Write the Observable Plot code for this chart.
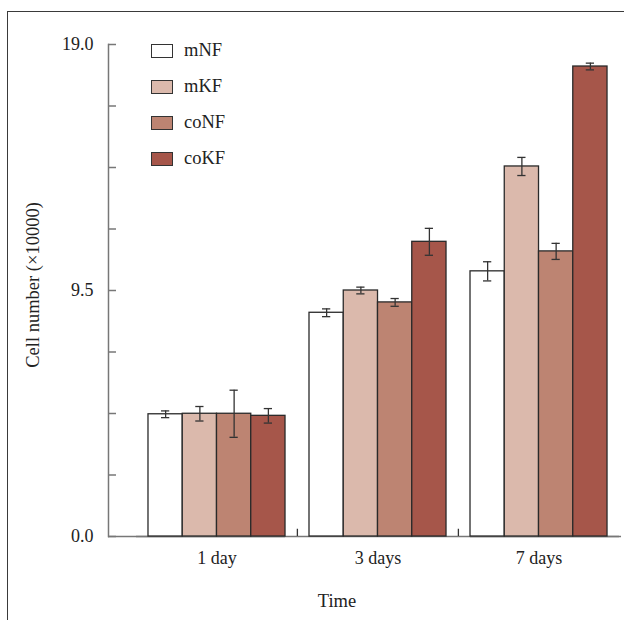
<!DOCTYPE html>
<html><head><meta charset="utf-8">
<script src="https://cdn.jsdelivr.net/npm/d3@7"></script>
<script src="https://cdn.jsdelivr.net/npm/@observablehq/plot@0.6"></script>
<style>
body{margin:0;background:#fff;}
#wrap{position:relative;width:624px;height:620px;overflow:hidden;font-family:"Liberation Serif",serif;color:#222;}
#border{position:absolute;left:7px;top:11px;width:640px;height:640px;border-left:1.5px solid #3a3a3a;border-top:1.5px solid #3a3a3a;}
#chart{position:absolute;left:0;top:0;}
#legend{position:absolute;left:151px;top:43px;}
.row{position:absolute;left:0;height:15px;display:flex;align-items:center;white-space:nowrap;}
.sw{width:20px;height:12px;border:1.3px solid #333;}
.lab{margin-left:11px;font-size:18.5px;}
#xtitle{position:absolute;left:0;width:674px;top:592px;text-align:center;font-size:18.5px;line-height:18px;}
#ytitle{position:absolute;left:33px;top:285px;font-size:18.5px;line-height:18px;white-space:nowrap;transform:translate(-50%,-50%) rotate(-90deg);}
</style></head><body>
<div id="wrap"><div id="border"></div><div id="chart"></div><div id="legend"></div><div id="ytitle">Cell number (×10000)</div><div id="xtitle">Time</div></div>
<script>
const times = ["1 day", "3 days", "7 days"];
const series = ["mNF", "mKF", "coNF", "coKF"];
const colors = ["#ffffff", "#dbb9ac", "#bd8472", "#a6564a"];
const mNF = [4.72, 8.64, 10.24];
const mKF = [4.74, 9.50, 14.29];
const coNF = [4.74, 9.04, 11.01];
const coKF = [4.66, 11.38, 18.15];
const errMNF = [0.13, 0.15, 0.37];
const errMKF = [0.28, 0.13, 0.35];
const errCoNF = [0.91, 0.15, 0.31];
const errCoKF = [0.28, 0.52, 0.13];
const yTicks = [0, 2.375, 4.75, 7.125, 9.5, 11.875, 14.25, 16.625, 19];
const yLabels = [0, 9.5, 19];
const dividers = ["1 day", "3 days"];

const vals = [mNF, mKF, coNF, coKF];
const errs = [errMNF, errMKF, errCoNF, errCoKF];
const data = [];
times.forEach((t, i) => series.forEach((s, j) => data.push({time: t, series: s, value: vals[j][i], err: errs[j][i]})));

const ink = "#333";
const axisGray = "#777";
const plot = Plot.plot({
  width: 624, height: 585,
  marginLeft: 108, marginRight: 4, marginTop: 44, marginBottom: 49,
  style: {fontFamily: '"Liberation Serif", serif', fontSize: "18px", color: "#222", background: "transparent"},
  fx: {domain: times, paddingInner: 0.149, paddingOuter: 0.1645, align: 0.755, round: false, label: null},
  x: {domain: series, padding: 0, round: false, axis: null},
  y: {domain: [0, 19], axis: null},
  color: {domain: series, range: colors},
  marks: [
    Plot.ruleY([0], {insetLeft: -12, insetRight: -12, stroke: axisGray, strokeWidth: 1.5}),
    Plot.ruleY([0], {facetAnchor: "left", insetLeft: -40, stroke: axisGray, strokeWidth: 1.5}),
    Plot.ruleY([0], {facetAnchor: "right", insetRight: -14, stroke: axisGray, strokeWidth: 1.5}),
    Plot.frame({anchor: "left", facetAnchor: "left", dx: -40, stroke: axisGray, strokeWidth: 1.5}),
    Plot.axisY(yTicks, {tickSize: -8, dx: -40, tickFormat: () => "", label: null, stroke: axisGray, strokeWidth: 1.5}),
    Plot.axisY(yLabels, {tickSize: 0, tickPadding: 15, dx: -40, tickFormat: d3.format(".1f"), label: null, fill: "#222"}),
    Plot.barY(data, {fx: "time", x: "series", y: "value", fill: "series", stroke: "#2a2a2a", strokeWidth: 1.3}),
    Plot.ruleX(data, {fx: "time", x: "series", y1: d => d.value - d.err, y2: d => d.value + d.err, stroke: ink, strokeWidth: 1.3}),
    Plot.tickY(data, {fx: "time", x: "series", y: d => d.value - d.err, insetLeft: 13, insetRight: 13, stroke: ink, strokeWidth: 1.3}),
    Plot.tickY(data, {fx: "time", x: "series", y: d => d.value + d.err, insetLeft: 13, insetRight: 13, stroke: ink, strokeWidth: 1.3}),
    Plot.ruleX(dividers, {fx: d => d, x: () => "coKF", y1: 0, y2: 0.28, dx: 29, stroke: ink, strokeWidth: 1.3}),
    Plot.axisFx({anchor: "bottom", tickSize: 0, tickPadding: 15, label: null, fill: "#222"})
  ]
});
document.getElementById("chart").appendChild(plot);

const legend = document.getElementById("legend");
series.forEach((s, i) => {
  const row = document.createElement("div");
  row.className = "row";
  row.style.top = (i * 36) + "px";
  const sw = document.createElement("div");
  sw.className = "sw";
  sw.style.background = colors[i];
  const lab = document.createElement("span");
  lab.className = "lab";
  lab.textContent = s;
  row.appendChild(sw); row.appendChild(lab);
  legend.appendChild(row);
});
</script>
</body></html>
